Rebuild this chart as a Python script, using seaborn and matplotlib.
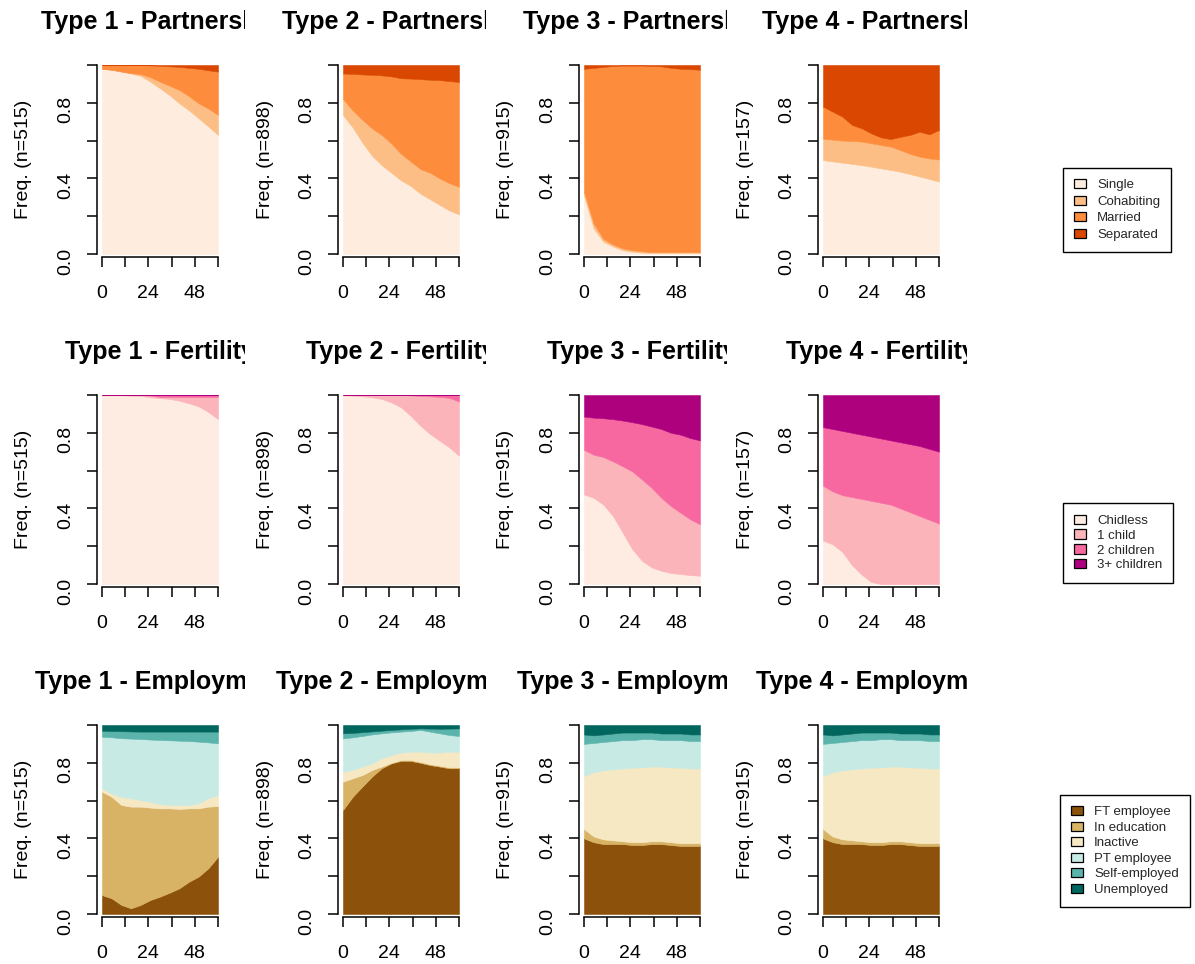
import matplotlib.pyplot as plt
import seaborn as sns
from matplotlib.patches import Patch
from matplotlib.transforms import Bbox, TransformedBbox

# ---- data (cumulative upper boundaries of each state) ----
months = [0, 5, 10, 15, 20, 25, 30, 35, 40, 45, 50, 55, 60]
types = ["Type 1", "Type 2", "Type 3", "Type 4"]

part_states = ["Single", "Cohabiting", "Married", "Separated"]
fert_states = ["Chidless", "1 child", "2 children", "3+ children"]
emp_states = ["FT employee", "In education", "Inactive", "PT employee",
              "Self-employed", "Unemployed"]

part_n = [515, 898, 915, 157]
fert_n = [515, 898, 915, 157]
emp_n = [515, 898, 915, 915]

part_t1 = [
    [.98, .975, .965, .955, .942, .912, .877, .84, .797, .76, .718, .675, .63],
    [.98, .975, .966, .957, .952, .935, .912, .89, .868, .835, .797, .77, .736],
    [1, 1, 1, 1, 1, .998, .996, .993, .99, .985, .98, .972, .965],
]
part_t2 = [
    [.735, .67, .59, .52, .47, .43, .39, .36, .32, .29, .26, .23, .21],
    [.82, .76, .71, .665, .63, .585, .53, .49, .45, .43, .40, .375, .355],
    [.955, .953, .95, .948, .945, .94, .93, .928, .925, .922, .92, .915, .91],
]
part_t3 = [
    [.31, .135, .065, .04, .02, .012, .007, .005, .005, .005, .005, .005, .005],
    [.33, .16, .08, .05, .03, .02, .015, .01, .01, .01, .01, .01, .01],
    [.98, .985, .99, .995, .997, .997, .997, .995, .993, .985, .98, .978, .975],
]
part_t4 = [
    [.497, .49, .483, .477, .47, .462, .453, .445, .435, .423, .41, .397, .383],
    [.61, .605, .60, .598, .595, .586, .577, .568, .55, .53, .515, .506, .50],
    [.78, .753, .727, .683, .665, .638, .617, .608, .62, .63, .647, .633, .656],
]

fert_t1 = [
    [.998, .998, .998, .996, .995, .988, .984, .979, .97, .956, .94, .91, .873],
    [1, 1, 1, 1, .999, .997, .99, .99, .99, .99, .99, .99, .99],
    [1, 1, 1, 1, 1, 1, 1, 1, 1, 1, 1, 1, 1],
]
fert_t2 = [
    [.998, .996, .993, .988, .979, .961, .935, .89, .838, .794, .758, .723, .679],
    [1, 1, 1, 1, 1, 1, 1, .998, .995, .993, .99, .985, .966],
    [1, 1, 1, 1, 1, 1, 1, 1, 1, 1, 1, 1, 1],
]
fert_t3 = [
    [.474, .456, .42, .36, .272, .184, .123, .088, .07, .058, .053, .047, .044],
    [.71, .684, .672, .649, .623, .596, .553, .509, .456, .412, .377, .342, .316],
    [.886, .88, .877, .872, .865, .856, .846, .833, .82, .80, .79, .772, .76],
]
fert_t4 = [
    [.23, .21, .17, .10, .05, .01, 0, 0, 0, 0, 0, 0, 0],
    [.52, .49, .47, .46, .45, .44, .43, .42, .40, .38, .36, .34, .32],
    [.83, .82, .81, .80, .79, .78, .77, .76, .75, .74, .73, .715, .70],
]

emp_t1 = [
    [.10, .083, .048, .03, .048, .074, .092, .113, .136, .171, .198, .242, .303],
    [.647, .62, .577, .568, .568, .563, .559, .559, .556, .559, .559, .568, .571],
    [.665, .638, .62, .612, .603, .594, .582, .577, .577, .577, .586, .612, .63],
    [.938, .935, .93, .928, .926, .923, .921, .919, .917, .915, .912, .908, .903],
    [.97, .968, .967, .966, .965, .965, .965, .965, .965, .965, .965, .965, .965],
]
emp_t2 = [
    [.55, .62, .674, .727, .771, .797, .81, .81, .80, .788, .78, .771, .771],
    [.70, .718, .735, .762, .78, .80, .815, .815, .805, .793, .785, .776, .776],
    [.753, .762, .78, .797, .824, .841, .854, .859, .859, .855, .854, .859, .859],
    [.929, .935, .942, .95, .956, .961, .965, .968, .974, .965, .956, .947, .942],
    [.956, .958, .962, .966, .97, .974, .977, .98, .982, .981, .98, .981, .982],
]
emp_t3 = [
    [.40, .38, .37, .37, .37, .365, .365, .37, .37, .365, .36, .36, .36],
    [.45, .41, .395, .39, .385, .38, .38, .385, .385, .38, .375, .375, .375],
    [.73, .75, .76, .765, .77, .775, .775, .78, .78, .775, .775, .77, .77],
    [.90, .905, .91, .915, .92, .92, .925, .925, .92, .92, .92, .915, .915],
    [.95, .945, .95, .955, .96, .96, .96, .96, .955, .955, .955, .95, .95],
]
emp_t4 = [
    [.40, .38, .37, .37, .37, .365, .365, .37, .37, .365, .36, .36, .36],
    [.45, .41, .395, .39, .385, .38, .38, .385, .385, .38, .375, .375, .375],
    [.73, .75, .76, .765, .77, .775, .775, .78, .78, .775, .775, .77, .77],
    [.90, .905, .91, .915, .92, .92, .925, .925, .92, .92, .92, .915, .915],
    [.95, .945, .95, .955, .96, .96, .96, .96, .955, .955, .955, .95, .95],
]

part_pal = sns.color_palette(["#FEEDDE", "#FDBE85", "#FD8D3C", "#D94701"])
fert_pal = sns.color_palette(["#FEEBE2", "#FBB4B9", "#F768A1", "#AE017E"])
emp_pal = sns.color_palette(["#8C510A", "#D8B365", "#F6E8C3", "#C7EAE5",
                             "#5AB4AC", "#01665E"])

# ---- style ----
sns.set_theme(style="ticks")
plt.rcParams["font.family"] = ["Liberation Sans", "DejaVu Sans"]
plt.rcParams["axes.linewidth"] = 1.1

W, H = 1195, 964
fig = plt.figure(figsize=(W / 100, H / 100), dpi=100)

col_left = [102, 343, 584, 823]
col_clip = [245, 486, 727, 967]
row_top = [65, 395, 725]
pw, ph = 116, 189

rows = [
    ("Partnership", [part_t1, part_t2, part_t3, part_t4], part_n, part_pal, part_states),
    ("Fertility", [fert_t1, fert_t2, fert_t3, fert_t4], fert_n, fert_pal, fert_states),
    ("Employment", [emp_t1, emp_t2, emp_t3, emp_t4], emp_n, emp_pal, emp_states),
]

for r, (domain, panels, ns, pal, states) in enumerate(rows):
    top = row_top[r]
    for c, bounds in enumerate(panels):
        left = col_left[c]
        ax = fig.add_axes([left / W, 1 - (top + ph) / H, pw / W, ph / H])
        edges = [[0] * len(months)] + bounds + [[1] * len(months)]
        for i in range(len(states)):
            ax.fill_between(months, edges[i], edges[i + 1], color=pal[i],
                            edgecolor=pal[i], linewidth=0.4)
        ax.set_xlim(0, 60)
        ax.set_ylim(0, 1)
        ax.set_xticks([0, 12, 24, 36, 48, 60])
        ax.set_xticklabels(["0", "", "24", "", "48", ""])
        ax.set_yticks([0, 0.2, 0.4, 0.6, 0.8, 1.0])
        ax.set_yticklabels(["0.0", "", "0.4", "", "0.8", ""])
        ax.tick_params(length=7.2, width=1.1, labelsize=14, color="black",
                       labelcolor="black")
        ax.tick_params(axis="x", pad=13)
        ax.tick_params(axis="y", pad=9, labelrotation=90)
        for lab in ax.get_yticklabels():
            lab.set_va("center")
        for sp in ax.spines.values():
            sp.set_color("black")
        sns.despine(ax=ax, offset={"left": 3.6, "bottom": 2.2}, trim=True)

        # clipped title, as in the original device
        t = fig.text((left + pw / 2) / W, 1 - (top - 36) / H,
                     f"{types[c]} - {domain}", ha="center", va="baseline",
                     fontsize=18, fontweight="bold", color="black")
        t.set_clip_box(TransformedBbox(
            Bbox([[(col_clip[c] - 241) / W, 0], [col_clip[c] / W, 1]]),
            fig.transFigure))
        t.set_clip_on(True)

        fig.text((left - 78) / W, 1 - (top + ph / 2) / H, f"Freq. (n={ns[c]})",
                 rotation=90, ha="center", va="center", fontsize=14,
                 color="black")

    handles = [Patch(facecolor=pal[i], edgecolor="black", linewidth=0.9)
               for i in range(len(states))]
    centers = [(1117, 210), (1118, 543), (1125, 851)]
    spacing = [0.32, 0.2, 0.25]
    leg = fig.legend(handles, states, loc="center",
                     bbox_to_anchor=(centers[r][0] / W, 1 - centers[r][1] / H),
                     bbox_transform=fig.transFigure, fontsize=9.5,
                     frameon=True, fancybox=False, shadow=False,
                     edgecolor="black", framealpha=1, borderpad=0.85,
                     handlelength=0.9, handleheight=0.7, handletextpad=0.85,
                     labelspacing=spacing[r])
    leg.get_frame().set_linewidth(1.0)

fig.savefig("out.png", dpi=100, facecolor="white")
